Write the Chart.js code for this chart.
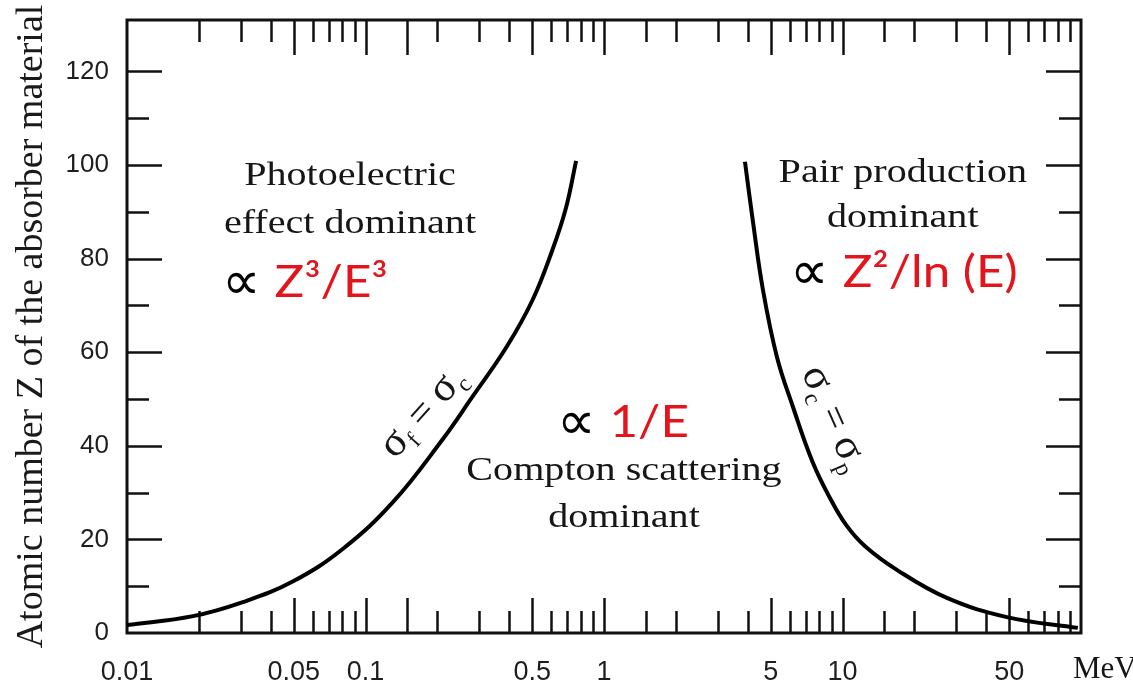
<!DOCTYPE html>
<html>
<head>
<meta charset="utf-8">
<script src="https://cdn.jsdelivr.net/npm/chart.js@4.4.1/dist/chart.umd.min.js"></script>
<style>
  html, body { margin: 0; padding: 0; background: #fff; }
  #wrap { width: 1133px; height: 686px; }
</style>
</head>
<body>
<div id="wrap"><canvas id="chart" width="1133" height="686"></canvas></div>
<script>
// Boundary sigma_photo = sigma_compton (energy in MeV, Z)
const photoE = [0.01, 0.0189, 0.0306, 0.0495, 0.080, 0.130, 0.210, 0.280, 0.389, 0.500, 0.606, 0.693, 0.764];
const photoZ = [1.7, 3.6, 6.6, 11, 17.9, 27.9, 41.3, 50.4, 61, 71, 81.7, 90.9, 100.9];

// Boundary sigma_compton = sigma_pair
const pairE = [3.90, 4.22, 4.64, 5.31, 6.20, 7.50, 8.87, 10.35, 12.4, 16.9, 27.4, 48.9, 97];
const pairZ = [100.7, 87.6, 73.3, 59.0, 48.3, 36.5, 28.8, 23.1, 18.6, 13.5, 7.5, 3.4, 1.1];

// Axis labels
const xTickValues = [0.01, 0.05, 0.1, 0.5, 1, 5, 10, 50];
const xTickLabels = ['0.01', '0.05', '0.1', '0.5', '1', '5', '10', '50'];
const yTickValues = [0, 20, 40, 60, 80, 100, 120];

const SERIF = '"Liberation Serif", "Times New Roman", serif';
const SANS = '"Liberation Sans", Arial, sans-serif';
const RED = '#e3141c';
const INK = '#161616';

const toPoints = (xs, ys) => xs.map((x, i) => ({ x, y: ys[i] }));

// draw several text runs one after another (rotated / stretched if asked)
function drawRuns(ctx, runs, x, y, opts) {
  opts = opts || {};
  ctx.save();
  ctx.translate(x, y);
  ctx.rotate((opts.angle || 0) * Math.PI / 180);
  ctx.scale(opts.sx || 1, 1);
  ctx.textAlign = 'left';
  ctx.textBaseline = 'alphabetic';
  let w = 0;
  runs.forEach(r => {
    ctx.font = r.font;
    r.w = ctx.measureText(r.text).width * (r.sx || 1);
    w += r.w + (r.gap || 0);
  });
  let cx = opts.align === 'center' ? -w / 2 : 0;
  runs.forEach(r => {
    ctx.save();
    ctx.font = r.font;
    ctx.fillStyle = r.color || INK;
    ctx.translate(cx, (r.dy || 0) + (opts.dy || 0));
    ctx.scale(r.sx || 1, 1);
    ctx.fillText(r.text, 0, 0);
    ctx.restore();
    cx += r.w + (r.gap || 0);
  });
  ctx.restore();
}

const serifRun = t => ({ text: t, font: '34px ' + SERIF });
const propRuns = t => [
  { text: '\u221D', font: '54px "DejaVu Sans"', color: '#000', gap: 14, dy: 2 },
  { text: t, font: '44px Lato, "Open Sans", sans-serif', color: RED, sx: 1.12 }
];
const sig = sub => [
  { text: 'σ', font: '43px ' + SERIF },
  { text: sub, font: '24px ' + SERIF, dy: 8 }
];
const eq = { text: ' = ', font: '40px ' + SERIF };

// texts placed in data coordinates (E in MeV, Z)
const notes = [
  { e: 0.0861, z: 95.7, runs: [serifRun('Photoelectric')], align: 'center', sx: 1.18 },
  { e: 0.0861, z: 85.5, runs: [serifRun('effect dominant')], align: 'center', sx: 1.18 },
  { e: 0.0250, z: 71.8, runs: propRuns('Z³/E³') },
  { e: 17.9, z: 96.4, runs: [serifRun('Pair production')], align: 'center', sx: 1.18 },
  { e: 17.9, z: 86.8, runs: [serifRun('dominant')], align: 'center', sx: 1.18 },
  { e: 6.03, z: 73.9, runs: propRuns('Z²/ln (E)') },
  { e: 0.635, z: 41.9, runs: propRuns('1/E') },
  { e: 1.213, z: 32.7, runs: [serifRun('Compton scattering')], align: 'center', sx: 1.18 },
  { e: 1.213, z: 22.7, runs: [serifRun('dominant')], align: 'center', sx: 1.18 },
  { e: 0.186, z: 45.8, runs: [...sig('f'), eq, ...sig('c')], align: 'center', angle: -48, dy: 2 },
  { e: 8.5, z: 45.0, runs: [...sig('c'), eq, ...sig('p')], align: 'center', angle: 66, dy: 2 }
];

const framePlugin = {
  id: 'frame',
  beforeDatasetsDraw(chart) {
    const { ctx, chartArea: a, scales: { x, y } } = chart;
    ctx.save();
    ctx.strokeStyle = '#111';
    ctx.lineWidth = 2.5;
    ctx.beginPath();
    // log axis ticks, inward, bottom and top
    x.ticks.forEach(t => {
      const v = t.value;
      if (v <= x.min * 1.0001 || v >= x.max * 0.9999) return;
      const m = Math.round(v / Math.pow(10, Math.floor(Math.log10(v) + 1e-9)));
      const len = (m === 1 || m === 5) ? 35 : 22;
      const px = Math.round(x.getPixelForValue(v)) + 0.5;
      ctx.moveTo(px, a.bottom); ctx.lineTo(px, a.bottom - len);
      ctx.moveTo(px, a.top); ctx.lineTo(px, a.top + len);
    });
    // Z ticks, inward, left and right
    y.ticks.forEach(t => {
      const v = t.value;
      if (v <= 0 || v > 120) return;
      const len = v % 20 === 0 ? 35 : 22;
      const py = Math.round(y.getPixelForValue(v)) + 0.5;
      ctx.moveTo(a.left, py); ctx.lineTo(a.left + len, py);
      ctx.moveTo(a.right, py); ctx.lineTo(a.right - len, py);
    });
    ctx.stroke();
    ctx.lineWidth = 3;
    ctx.strokeRect(a.left, a.top, a.right - a.left, a.bottom - a.top);
    ctx.restore();
  },
  afterDraw(chart) {
    const { ctx, chartArea: a, scales: { x, y } } = chart;
    notes.forEach(n => {
      drawRuns(ctx, n.runs, x.getPixelForValue(n.e), y.getPixelForValue(n.z), n);
    });
    ctx.save();
    ctx.font = '31px ' + SERIF;
    ctx.fillStyle = INK;
    ctx.textBaseline = 'alphabetic';
    ctx.fillText('MeV', a.right - 8, a.bottom + 45);
    ctx.restore();
  }
};

const lineStyle = {
  borderColor: '#000',
  borderWidth: 4,
  pointRadius: 0,
  tension: 0.4,
  fill: false
};

new Chart(document.getElementById('chart'), {
  type: 'line',
  data: {
    datasets: [
      { label: 'σf = σc', data: toPoints(photoE, photoZ), ...lineStyle },
      { label: 'σc = σp', data: toPoints(pairE, pairZ), ...lineStyle }
    ]
  },
  options: {
    responsive: false,
    animation: false,
    layout: { padding: { top: 20, right: 52, left: 0, bottom: 0 } },
    plugins: { legend: { display: false }, tooltip: { enabled: false } },
    scales: {
      x: {
        type: 'logarithmic',
        min: 0.01,
        max: 100,
        grid: { display: false },
        border: { display: false },
        afterFit: s => { s.height = 53; s.paddingLeft = 0; s.paddingRight = 0; },
        ticks: {
          autoSkip: false,
          maxRotation: 0,
          padding: 15,
          color: '#1e1e1e',
          font: { family: SANS, size: 27 },
          callback: v => {
            const i = xTickValues.findIndex(t => Math.abs(Math.log10(t) - Math.log10(v)) < 1e-6);
            return i >= 0 ? xTickLabels[i] : '';
          }
        }
      },
      y: {
        type: 'linear',
        min: 0,
        max: 131,
        grid: { display: false },
        border: { display: false },
        afterFit: s => { s.width = 127; s.paddingTop = 0; s.paddingBottom = 0; },
        title: {
          display: true,
          text: 'Atomic number Z of the absorber material',
          color: '#1a1a1a',
          font: { family: SERIF, size: 38 },
          padding: { top: 9, bottom: 0 }
        },
        ticks: {
          stepSize: 10,
          includeBounds: false,
          autoSkip: false,
          padding: 10,
          color: '#1e1e1e',
          font: { family: SANS, size: 26 },
          callback: v => yTickValues.includes(v) ? String(v) : ''
        }
      }
    }
  },
  plugins: [framePlugin]
});
</script>
</body>
</html>
